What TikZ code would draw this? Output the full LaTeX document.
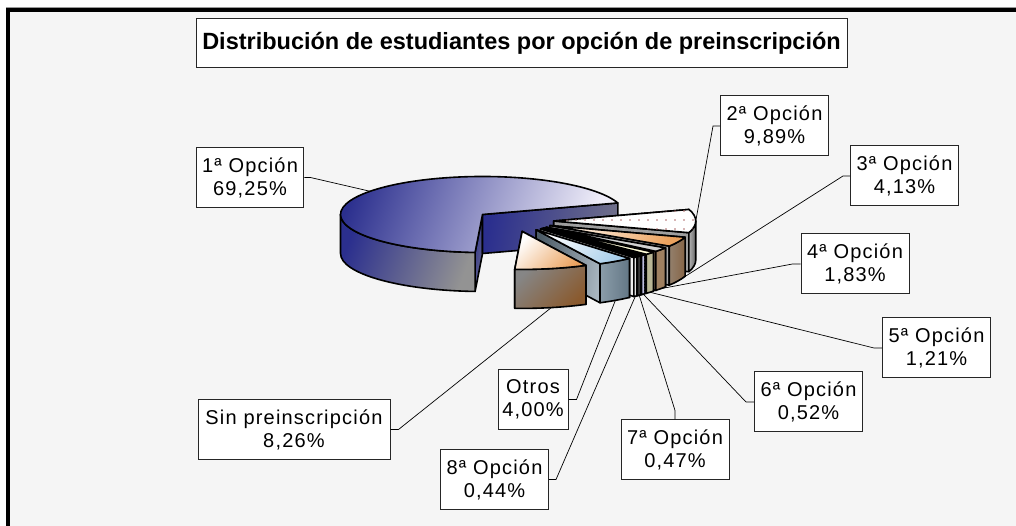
\documentclass[tikz,border=0pt]{standalone}
\usepackage{fontspec}
\setmainfont{Liberation Sans}
\newfontfamily\labelfont[LetterSpace=6]{Liberation Sans}
\usetikzlibrary{patterns.meta}

\definecolor{navy}{HTML}{2B2F8E}
\definecolor{lavender}{HTML}{F0EEF9}
\definecolor{slate}{HTML}{6E6E8A}
\definecolor{panel}{HTML}{F5F5F5}
\definecolor{peach}{HTML}{EBA25E}
\definecolor{clay}{HTML}{8A5A2E}
\definecolor{sky}{HTML}{A8CEEA}
\definecolor{steel}{HTML}{6E8494}
\definecolor{rosy}{HTML}{B06A6A}
\definecolor{iris}{HTML}{5A5AA0}
\definecolor{olivegray}{HTML}{A8A47A}

\begin{document}
\begin{tikzpicture}[
  x=1pt, y=1pt,
  rim/.style={draw=black, line width=1.6pt, line join=round},
  optbox/.style={draw=black!85, fill=white, line width=1pt, align=center,
    inner xsep=6pt, minimum width=108pt, minimum height=60pt,
    font=\labelfont\fontsize{20}{23}\selectfont},
  leader/.style={line width=.7pt},
  pics/slice/.style n args={5}{code={
    \begin{scope}[shift={({(#1+#2)/2}:39.76 and 10.64)}]
      \path[rim, #4] (0, 0) -- (#2:142 and 38) -- ++(0, -39) -- (0, -39) -- cycle;
      \path[rim, #4] (0, 0) -- (#1:142 and 38) -- ++(0, -39) -- (0, -39) -- cycle;
      \path[rim, #5] ({max(#1,180)}:142 and 38) arc ({max(#1,180)}:{min(#2,360)}:142 and 38)
        -- ++(0, -39) arc ({min(#2,360)}:{max(#1,180)}:142 and 38) -- cycle;
      \path[rim, #3] (0, 0) -- (#1:142 and 38) arc (#1:#2:142 and 38) -- cycle;
      \path ({(#1+#2)/2}:142 and 38) coordinate (-top) ++(0, -39) coordinate (-bot);
    \end{scope}
  }},
]
  \useasboundingbox (0, 0) rectangle (1016, 526);
  \fill[white] (0, 0) rectangle (1016, 526);
  \fill[panel] (6, 0) rectangle (1016, 519);
  \fill[black] (6, 513.5) rectangle (1016, 518.5);
  \fill[black] (6, 0) rectangle (10, 518.5);
  \draw[black!40, line width=.8pt] (6, 519) -- (1016, 519);

  \node[draw=black!85, fill=white, line width=1pt, minimum width=651pt, minimum height=49pt,
    inner xsep=3pt, font=\bfseries\fontsize{23.5}{27}\selectfont] (title) at (521.5, 482.5)
    {Distribución de estudiantes por opción de preinscripción};

  \coordinate (ctr) at (514, 305);
  \pic (opt1) at (ctr) {slice={17.7}{267}
    {left color=navy, right color=lavender, shading angle=70}
    {left color=navy, right color=slate, shading angle=80}
    {left color=navy, right color=gray!85, shading angle=70}};
  \pic (opt2) at (ctr) {slice={342.1}{377.7}
    {fill=white, postaction={pattern={Dots[distance=9pt, radius=.9pt]}, pattern color=rosy}}
    {fill=gray!75}
    {left color=gray!60, right color=gray!80!black}};
  \pic (opt3) at (ctr) {slice={327.2}{342.1}
    {left color=orange!8, right color=peach, shading angle=60}
    {fill=gray!65}
    {left color=gray!70!brown, right color=clay!70!gray}};
  \pic (opt4) at (ctr) {slice={320.6}{327.2}
    {fill=gray!35}
    {fill=brown!40!gray}
    {fill=brown!50!gray}};
  \pic (opt5) at (ctr) {slice={316.3}{320.6}
    {fill=yellow!15}
    {fill=olivegray}
    {fill=olivegray!80}};
  \pic (opt6) at (ctr) {slice={314.4}{316.3}
    {fill=iris}
    {fill=iris!40, postaction={pattern={Dots[distance=3pt, radius=.7pt]}, pattern color=iris}}
    {fill=iris!40, postaction={pattern={Dots[distance=3pt, radius=.7pt]}, pattern color=iris}}};
  \pic (opt7) at (ctr) {slice={312.7}{314.4}
    {fill=black!80}
    {fill=black!85}
    {fill=black!75}};
  \pic (opt8) at (ctr) {slice={311.1}{312.7}
    {fill=yellow!8}
    {fill=gray!15}
    {fill=gray!25}};
  \pic (otros) at (ctr) {slice={296.7}{311.1}
    {left color=white, right color=sky, shading angle=50}
    {left color=steel!70!black, right color=steel!60, shading angle=80}
    {left color=steel!80, right color=steel!90!black}};
  \pic (sinpre) at (ctr) {slice={267}{296.7}
    {left color=white, right color=peach, shading angle=45}
    {fill=gray!70}
    {left color=gray!95, right color=clay, shading angle=45}};

  \node[optbox, minimum width=106pt] (lab1) at (250, 348.5) {1ª Opción\\69,25\%};
  \node[optbox] (lab2) at (774.5, 400) {2ª Opción\\9,89\%};
  \node[optbox] (lab3) at (904.5, 350) {3ª Opción\\4,13\%};
  \node[optbox] (lab4) at (855, 262) {4ª Opción\\1,83\%};
  \node[optbox] (lab5) at (936.5, 178) {5ª Opción\\1,21\%};
  \node[optbox] (lab6) at (808.5, 124) {6ª Opción\\0,52\%};
  \node[optbox] (lab7) at (675, 76) {7ª Opción\\0,47\%};
  \node[optbox] (lab8) at (494.5, 46.5) {8ª Opción\\0,44\%};
  \node[optbox, minimum width=70pt, inner xsep=3pt] (labotros) at (533, 126.5) {Otros\\4,00\%};
  \node[optbox, minimum width=192pt] (labsin) at (294, 96.5) {Sin preinscripción\\8,26\%};

  \draw[leader] (lab1.east) -- ++(6, 0) -- (opt1-top);
  \draw[leader] (lab2.west) -- ++(-7, 0) -- (opt2-top);
  \draw[leader] (lab3.west) -- ++(-7, 0) -- (opt3-bot);
  \draw[leader] (lab4.west) -- ++(-8, 0) -- (opt4-bot);
  \draw[leader] (lab5.west) -- ++(-8, 0) -- (opt5-bot);
  \draw[leader] (lab6.west) -- ++(-8, 0) -- (opt6-bot);
  \draw[leader] (lab7.north) -- ++(0, 9) -- (opt7-bot);
  \draw[leader] (lab8.east) -- ++(7, 0) -- (opt8-bot);
  \draw[leader] (labotros.east) -- ++(8, 0) -- (otros-bot);
  \draw[leader] (labsin.east) -- ++(8, 0) -- (sinpre-bot);
\end{tikzpicture}
\end{document}
